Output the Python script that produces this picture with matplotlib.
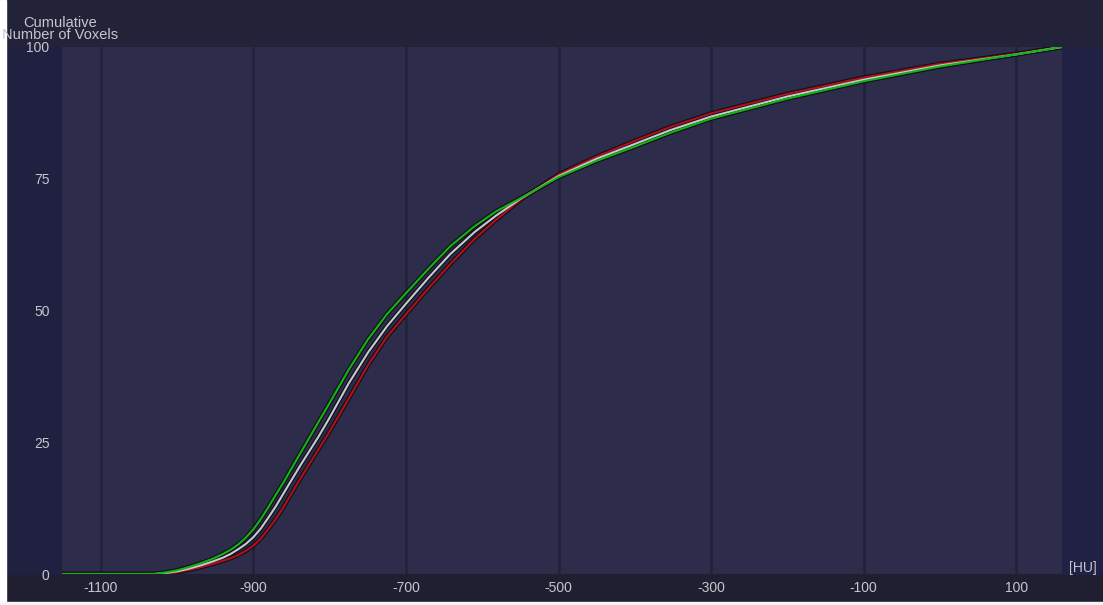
import matplotlib
matplotlib.use("Agg")
import matplotlib.pyplot as plt
from matplotlib.patches import Rectangle

# values (HU vs cumulative % of voxels)
hu = [-1151, -1030, -1015, -1000, -985, -970, -955, -940, -930, -920, -910,
      -900, -890, -880, -870, -861, -839, -815, -802, -775, -750, -725,
      -700, -670, -642, -610, -582, -550, -500, -450, -400, -354, -300,
      -200, -100, 0, 100, 160]
white = [0, 0, 0.2, 0.5, 1.0, 1.6, 2.3, 3.1, 3.8, 4.7, 5.7,
         7.0, 8.7, 10.8, 13.0, 15.2, 20.5, 26.0, 29.2, 36.2, 42.0, 47.0,
         51.3, 56.3, 60.7, 64.9, 68.0, 71.2, 75.5, 78.8, 81.6, 84.2, 86.8,
         90.6, 93.8, 96.5, 98.6, 100]
green = [0, 0, 0.3, 0.7, 1.3, 2.0, 2.8, 3.8, 4.6, 5.6, 6.9,
         8.5, 10.5, 12.8, 15.2, 17.3, 22.8, 28.8, 32.0, 38.8, 44.5, 49.3,
         53.3, 58.0, 62.2, 66.0, 68.8, 71.3, 75.3, 78.4, 81.1, 83.7, 86.4,
         90.2, 93.5, 96.3, 98.6, 100]
red = [0, 0, 0.12, 0.35, 0.75, 1.25, 1.85, 2.5, 3.0, 3.6, 4.4,
       5.4, 6.8, 8.6, 10.6, 12.6, 18.0, 23.6, 26.6, 33.3, 39.6, 45.0,
       49.3, 54.3, 58.8, 63.6, 67.2, 71.0, 75.8, 79.2, 82.2, 84.8, 87.4,
       91.1, 94.2, 96.8, 98.7, 100]

xticks = [-1100, -900, -700, -500, -300, -100, 100]
xtick_labels = ["-1100", "-900", "-700", "-500", "-300", "-100", "100"]
yticks = [0, 25, 50, 75, 100]

W, H = 1103, 605
fig = plt.figure(figsize=(W / 100, H / 100), dpi=100)
fig.patch.set_facecolor("#1f1f31")

# background panels around the plot
fig.patches.append(Rectangle((0, (H - 47) / H), 1, 47 / H, transform=fig.transFigure,
                             color="#222238", zorder=-4))
fig.patches.append(Rectangle((6 / W, (H - 574) / H), 56 / W, 527 / H,
                             transform=fig.transFigure, color="#202040", zorder=-4))
fig.patches.append(Rectangle((1062 / W, (H - 574) / H), 41 / W, 527 / H,
                             transform=fig.transFigure, color="#212145", zorder=-4))
fig.patches.append(Rectangle((0, 0), 6 / W, 1, transform=fig.transFigure,
                             color="white", zorder=-3))
fig.patches.append(Rectangle((0, 0), 1, 3 / H, transform=fig.transFigure,
                             color="#f4f4f6", zorder=-3))

ax = fig.add_axes([62 / W, (H - 574) / H, 1000 / W, 527 / H])
ax.set_facecolor("#2d2d4b")
ax.set_xlim(-1151, 160)
ax.set_ylim(0, 100)

for t in xticks:
    ax.axvline(t, color="#21213a", lw=1.8, zorder=1)

for ys, col in [(red, "#b0101c"), (white, "#c8c8d2"), (green, "#14b414")]:
    ax.plot(hu, ys, color="#101018", lw=3.2, zorder=2, solid_joinstyle="round")
    ax.plot(hu, ys, color=col, lw=1.5, zorder=3, solid_joinstyle="round")

for s in ax.spines.values():
    s.set_visible(False)

txt = "#c6c6ce"
ax.set_xticks(xticks)
ax.set_xticklabels(xtick_labels)
ax.set_yticks(yticks)
ax.tick_params(length=0, colors=txt, labelsize=10, pad=5)
ax.tick_params(axis="y", pad=9)
for lab in ax.get_xticklabels() + ax.get_yticklabels():
    lab.set_fontfamily("Liberation Sans")

fig.text(60 / W, 1 - 29 / H, "Cumulative\nNumber of Voxels", color=txt,
         fontsize=10.5, ha="center", va="center", linespacing=0.85,
         fontfamily="Liberation Sans")
fig.text(1083 / W, 1 - 568 / H, "[HU]", color=txt, fontsize=10,
         ha="center", va="center", fontfamily="Liberation Sans")

fig.savefig("out.png", dpi=100, facecolor=fig.get_facecolor())
